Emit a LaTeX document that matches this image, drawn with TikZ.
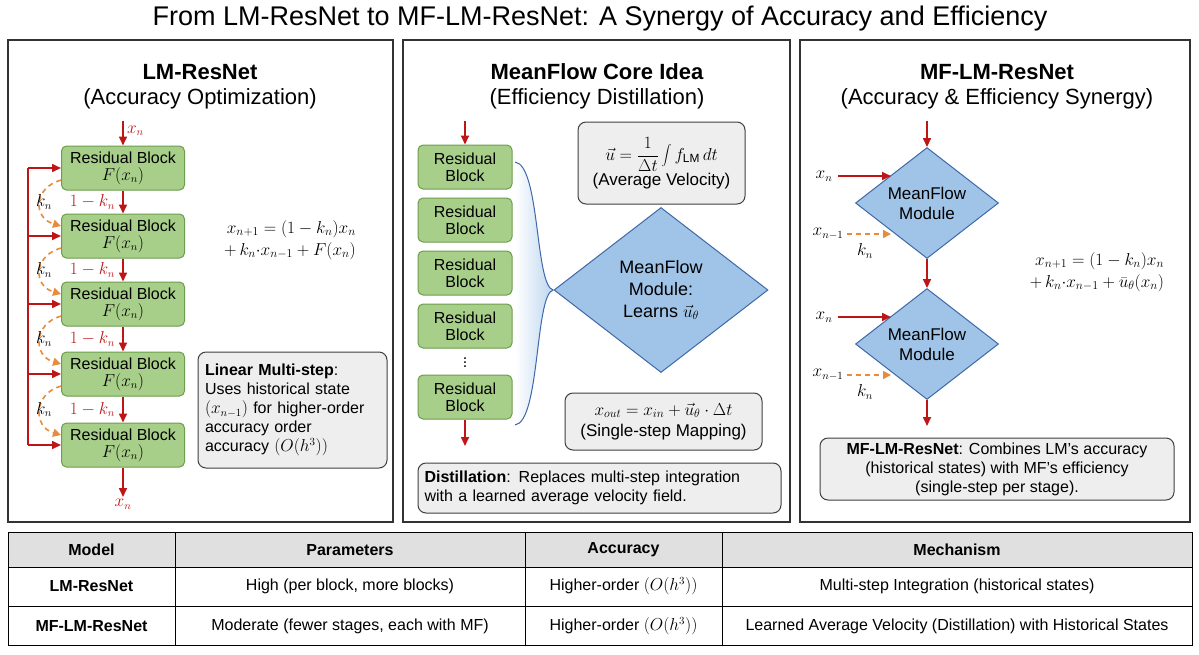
\documentclass[tikz,border=0pt]{standalone}
\usepackage{fontspec}
\setmainfont{Liberation Sans}
\usetikzlibrary{shapes.geometric,arrows.meta,positioning,calc}
\definecolor{resgreen}{RGB}{168,207,138}
\definecolor{resedge}{RGB}{108,158,76}
\definecolor{mfblue}{RGB}{160,196,232}
\definecolor{mfedge}{RGB}{62,104,168}
\definecolor{arrred}{RGB}{190,22,22}
\definecolor{arrorange}{RGB}{232,140,60}
\definecolor{boxgray}{RGB}{238,238,238}
\tikzset{
  resblock/.style={draw=resedge,fill=resgreen,rounded corners=5pt,line width=1pt,minimum width=123pt,minimum height=44pt,align=center,font=\fontsize{16}{18}\selectfont},
  resblocktwo/.style={resblock,minimum width=94pt},
  mfmod/.style={draw=mfedge,fill=mfblue,diamond,line width=1pt,align=center,inner sep=0pt},
  notebox/.style={draw=black!75,fill=boxgray,rounded corners=8pt,line width=1pt,align=left,font=\fontsize{16}{19}\selectfont},
  redarr/.style={arrred,line width=1.6pt,-{Triangle[length=9pt,width=8pt]}},
  orangearr/.style={arrorange,line width=1.6pt,dashed,dash pattern=on 5pt off 4pt,-{Triangle[length=8pt,width=8pt]}},
  panel/.style={draw=black!80,line width=1.2pt},
  ptitle/.style={font=\fontsize{22}{26}\selectfont\bfseries},
  psub/.style={font=\fontsize{22}{26}\selectfont},
  txt/.style={font=\fontsize{16}{19}\selectfont},
  eqn/.style={font=\fontsize{18}{22}\selectfont,align=right}
}
\begin{document}
\begin{tikzpicture}[x=1pt,y=-1pt]
    \useasboundingbox[fill=white] (0,0) rectangle (1199,654);

    % Titel
    \node[font=\fontsize{27}{30}\selectfont] (title) at (600,19) {From LM-ResNet to MF-LM-ResNet: A Synergy of Accuracy and Efficiency};

    % Panels
    \draw[panel] (8,40) rectangle (393,522);
    \draw[panel] (403,40) rectangle (790,522);
    \draw[panel] (800,40) rectangle (1190,522);
    \node[ptitle] (t1) at (200,72) {LM-ResNet};
    \node[psub] (s1) at (200,99) {(Accuracy Optimization)};
    \node[ptitle] (t2) at (597,72) {MeanFlow Core Idea};
    \node[psub] (s2) at (597,99) {(Efficiency Distillation)};
    \node[ptitle] (t3) at (997,72) {MF-LM-ResNet};
    \node[psub] (s3) at (997,99) {(Accuracy \& Efficiency Synergy)};

    % LM-ResNet
    \foreach \i/\y in {1/168,2/236,3/304,4/374,5/445}
      \node[resblock] (b\i) at (123,\y) {Residual Block\\[-1pt]$F(x_n)$};
    \coordinate (in1) at (123,121);
    \coordinate (out1) at (123,497);
    \draw[redarr] (in1) -- (b1) node[pos=0.4,right,txt] {$x_n$};
    \draw[redarr] (b5) -- (out1) node[below=-2pt,txt] {$x_n$};
    \coordinate (bus1) at (28,168);
    \coordinate (bus5) at (28,445);
    \draw[arrred,line width=1.6pt] (bus1) -- (bus5);
    \foreach \i/\y in {1/168,2/236,3/304,4/374,5/445}
      \draw[redarr] (28,\y) -- (b\i.west |- 0,\y);
    \foreach \i/\j in {1/2,2/3,3/4,4/5}{
      \draw[redarr] (b\i) -- (b\j) node[midway,left=4pt,txt] {$1-k_n$};
      \draw[orangearr] ([yshift=-12pt]b\i.west) .. controls +(-28,8) and +(-28,-8) .. ([yshift=10pt]b\j.west);
      \node[txt] at ($(b\i.west)!0.5!(b\j.west)+(-17,0)$) {$k_n$};
    }
    \node[eqn] (eq1) at (290,240) {$x_{n+1}=(1-k_n)x_n$\\$+\,k_n{\cdot}x_{n-1}+F(x_n)$};
    \node[notebox,minimum width=189pt,minimum height=116pt,text width=175pt] (lm) at (292.5,410) {\textbf{Linear Multi-step}:\\Uses historical state\\$(x_{n-1})$ for higher-order\\accuracy order\\accuracy $(O(h^3))$};

    % MeanFlow Core Idea
    \foreach \i/\y in {1/167,2/220,3/273,4/326,6/397}
      \node[resblocktwo] (c\i) at (465,\y) {Residual\\[-1pt]Block};
    \node[font=\fontsize{16}{18}\selectfont] (dots) at (465,360) {$\vdots$};
    \coordinate (in2) at (465,121);
    \coordinate (out2) at (465,446);
    \draw[redarr] (in2) -- (c1);
    \draw[redarr] (c6) -- (out2);
    \coordinate (br1) at (515,162);
    \coordinate (brt) at (553,290);
    \coordinate (br2) at (515,425);
    \shade[left color=white,right color=mfblue!70,draw=none] (br1) .. controls (540,165) and (535,285) .. (brt) .. controls (535,295) and (540,422) .. (br2) -- cycle;
    \draw[mfedge,line width=1pt] (br1) .. controls (540,165) and (535,285) .. (brt) .. controls (535,295) and (540,422) .. (br2);
    \node[mfmod,minimum width=214pt,minimum height=165pt,font=\fontsize{18}{22}\selectfont] (mf) at (661,290) {MeanFlow\\Module:\\Learns $\vec u_\theta$};
    \node[notebox,align=center,minimum width=167pt,minimum height=82pt,font=\fontsize{17}{21}\selectfont] (avg) at (661.5,163) {$\displaystyle\vec u=\frac{1}{\Delta t}\int f_{\mathrm{LM}}\,dt$\\(Average Velocity)};
    \node[notebox,align=center,minimum width=197pt,minimum height=57pt,font=\fontsize{17}{21}\selectfont] (single) at (663.5,421.5) {$x_{out}=x_{in}+\vec u_\theta\cdot\Delta t$\\(Single-step Mapping)};
    \node[notebox,minimum width=363pt,minimum height=50pt,text width=350pt] (dist) at (599.5,488) {\textbf{Distillation}: Replaces multi-step integration\\with a learned average velocity field.};

    % MF-LM-ResNet
    \node[mfmod,minimum width=143pt,minimum height=107pt,font=\fontsize{17}{20}\selectfont] (m1) at (927,203) {MeanFlow\\Module};
    \node[mfmod,minimum width=143pt,minimum height=107pt,font=\fontsize{17}{20}\selectfont] (m2) at (927,344) {MeanFlow\\Module};
    \coordinate (in3) at (927,121);
    \coordinate (out3) at (927,426);
    \draw[redarr] (in3) -- (m1);
    \draw[redarr] (m1) -- (m2);
    \draw[redarr] (m2) -- (out3);
    \foreach \m/\y in {m1/176,m2/317}{
      \node[txt] (xa\m) at (824,\y) {$x_n$};
      \coordinate (ha\m) at (891,\y);
      \draw[redarr] (xa\m.east) ++(2,0) -- (ha\m);
      \node[txt] (xb\m) at (828,\y+58) {$x_{n-1}$};
      \coordinate (hb\m) at (891,\y+58);
      \draw[orangearr] (xb\m.east) -- (hb\m);
      \node[txt] at (865,\y+75) {$k_n$};
    }
    \node[eqn] (eq3) at (1097,272) {$x_{n+1}=(1-k_n)x_n$\\$+\,k_n{\cdot}x_{n-1}+\bar u_\theta(x_n)$};
    \node[notebox,align=center,minimum width=354pt,minimum height=62pt] (mfn) at (997,469) {\textbf{MF-LM-ResNet}: Combines LM's accuracy\\(historical states) with MF's efficiency\\(single-step per stage).};

    % Tabelle
    \fill[black!12] (8,532) rectangle (1192,567);
    \draw[line width=1pt] (8,532) rectangle (1192,645);
    \draw[line width=0.8pt] (8,567) -- (1192,567);
    \draw[line width=0.8pt] (8,606) -- (1192,606);
    \foreach \x in {175,525,722}
      \draw[line width=0.8pt] (\x,532) -- (\x,645);
    \foreach \x/\t in {91.5/Model,350/Parameters,623.5/Accuracy,957/Mechanism}
      \node[txt,font=\fontsize{16}{19}\selectfont\bfseries] at (\x,550) {\t};
    \node[txt,font=\fontsize{16}{19}\selectfont\bfseries] (r1) at (91.5,586) {LM-ResNet};
    \node[txt] at (350,586) {High (per block, more blocks)};
    \node[txt] at (623.5,586) {Higher-order $(O(h^3))$};
    \node[txt] at (957,586) {Multi-step Integration (historical states)};
    \node[txt,font=\fontsize{16}{19}\selectfont\bfseries] (r2) at (91.5,626) {MF-LM-ResNet};
    \node[txt] at (350,626) {Moderate (fewer stages, each with MF)};
    \node[txt] at (623.5,626) {Higher-order $(O(h^3))$};
    \node[txt] at (957,626) {Learned Average Velocity (Distillation) with Historical States};
\end{tikzpicture}
\end{document}
